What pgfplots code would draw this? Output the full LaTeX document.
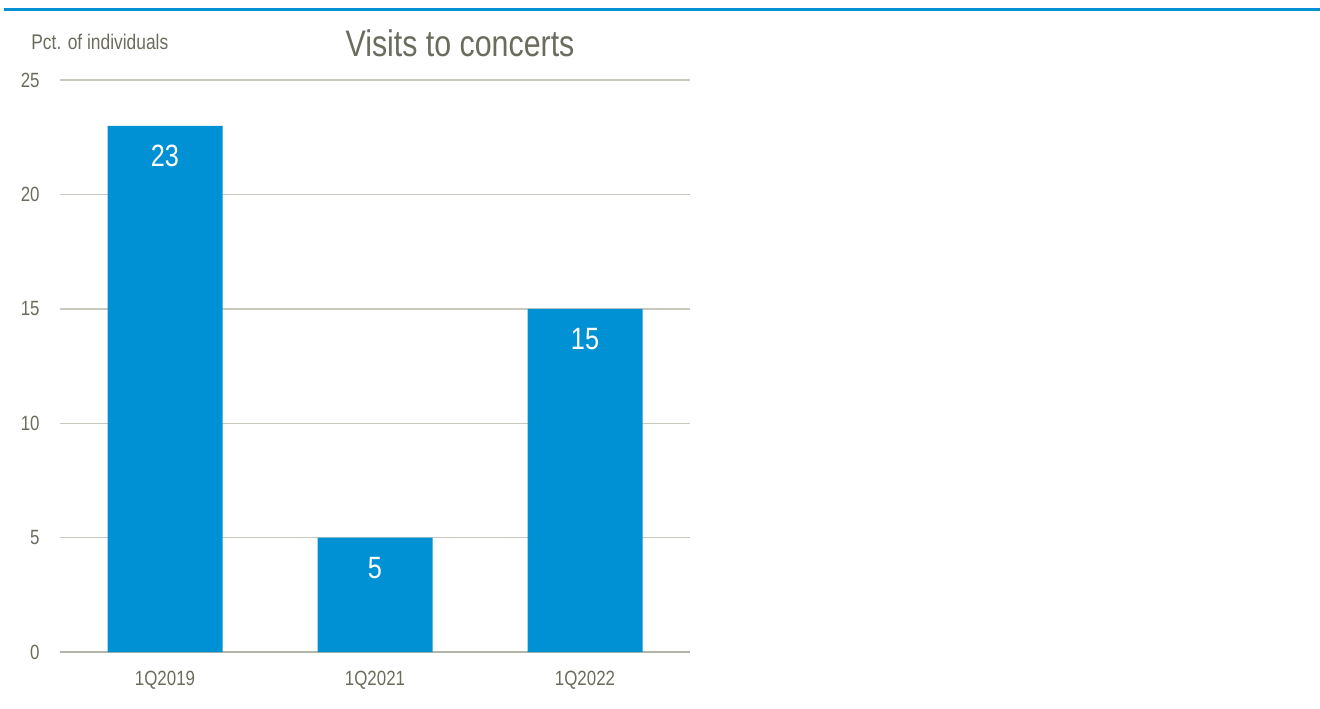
\documentclass[border=0pt]{standalone}
\usepackage{fontspec}
\setmainfont{Liberation Sans}[FakeStretch=0.82]
\usepackage{pgfplots}
\pgfplotsset{compat=1.18}
\definecolor{barblue}{HTML}{0091D5}
\definecolor{txtgray}{HTML}{6B6B5E}
\definecolor{gridgray}{HTML}{C8C8BE}
\definecolor{axgray}{HTML}{B4B4A8}
\begin{document}
\begin{tikzpicture}[x=1pt,y=1pt]
\path[use as bounding box] (0,0) rectangle (660,354);
\draw[barblue, line width=1.2pt] (2,349.2) -- (660,349.2);
\node[anchor=base west, inner sep=0pt, text=txtgray, font=\fontsize{10.6pt}{12pt}\selectfont] at (15.5,329) {Pct. of individuals};
\node[anchor=base, inner sep=0pt, text=txtgray, font=\fontsize{18.5pt}{22pt}\selectfont] at (230,325.5) {Visits to concerts};
\begin{axis}[
  at={(30pt,28pt)}, anchor=south west,
  scale only axis, width=315pt, height=286pt,
  ymin=0, ymax=25, xmin=-0.5, xmax=2.5,
  ytick={0,5,10,15,20,25},
  xtick={0,1,2}, xticklabels={1Q2019,1Q2021,1Q2022},
  major tick length=0pt,
  axis x line*=bottom,
  axis y line*=left,
  y axis line style={draw=none},
  x axis line style={axgray, line width=0.8pt, -},
  ymajorgrids, grid style={gridgray, line width=0.7pt},
  /pgf/number format/assume math mode=true,
  ticklabel style={text=txtgray, font=\fontsize{10.3pt}{12pt}\selectfont},
  yticklabel style={anchor=east, inner sep=0pt, xshift=-10pt},
  xticklabel style={anchor=north, inner sep=0pt, yshift=-9.5pt},
  ybar, bar width=57.5pt,
  nodes near coords,
  every node near coord/.append style={anchor=center, yshift=-15pt, text=white, font=\fontsize{15.4pt}{18pt}\selectfont},
  clip=false,
]
\addplot[fill=barblue, draw=none] coordinates {(0,23) (1,5) (2,15)};
\end{axis}
\end{tikzpicture}
\end{document}
